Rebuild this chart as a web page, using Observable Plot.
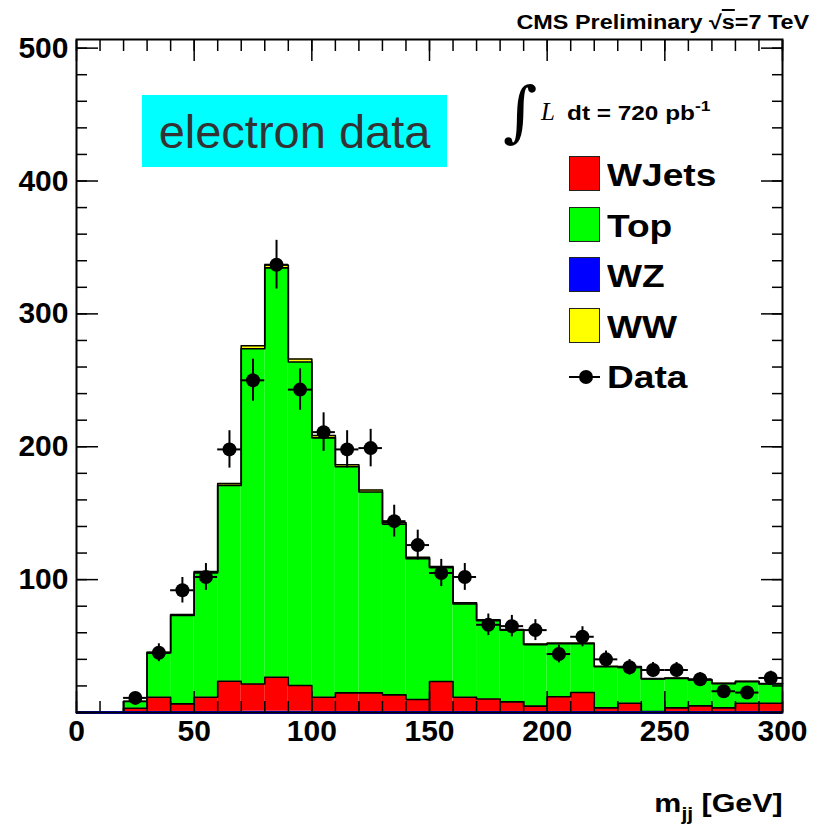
<!DOCTYPE html>
<html><head><meta charset="utf-8">
<script src="https://cdn.jsdelivr.net/npm/d3@7"></script>
<script src="https://cdn.jsdelivr.net/npm/@observablehq/plot@0.6"></script>
<style>
body{margin:0;background:#fff;}
#wrap{position:relative;width:813px;height:825px;font-family:"Liberation Sans",Arial,Helvetica,sans-serif;overflow:hidden;}
.abs{position:absolute;white-space:nowrap;line-height:1;}
.wide{transform:scaleX(1.16);transform-origin:left center;}
.wideR{transform:scaleX(1.17);transform-origin:right center;}
</style></head><body><div id="wrap"></div>
<script>
// ---- data ----
const binLo = [0,10,20,30,40,50,60,70,80,90,100,110,120,130,140,150,160,170,180,190,200,210,220,230,240,250,260,270,280,290];
const binHi = [10,20,30,40,50,60,70,80,90,100,110,120,130,140,150,160,170,180,190,200,210,220,230,240,250,260,270,280,290,300];
const wz    = [0,0,0.6,0.8,0.8,0.8,0.8,1.0,1.0,1.0,0.8,0.8,0.8,0.8,0.8,0.8,0.8,0.8,0.8,0.8,0.8,0.8,0.8,0.8,0.8,0.8,0.8,0.8,0.8,0.8];
const wjets = [0,0,2.6,10.7,5.7,10.7,22.7,20.5,25.5,19.3,10.7,14.0,14.0,12.5,9.0,22.5,10.7,9.4,7.2,4.0,11.0,14.2,2.7,6.2,0,2.7,4.2,2.7,6.2,6.2];
const top_  = [0,0,5.1,33.3,66.5,93.6,147.4,252.3,308.1,243.5,195.2,170.2,151.1,128.5,106.0,85.6,70.2,58.8,53.9,46.3,39.9,36.7,30.9,27.2,24.4,22.2,19.5,18.2,16.2,14.5];
const ww    = [0,0,0.2,0.5,0.7,0.9,1.5,2.2,2.2,2.2,1.8,1.5,1.5,1.2,1.0,0.9,0.8,0.7,0.6,0.5,0.5,0.5,0.4,0.4,0.3,0.3,0.3,0.3,0.3,0.3];
const dataCounts = [0,0,11,45,92,102,198,250,337,243,211,198,199,144,126,105,102,66,65,62,44,57,40,34,32,32,25,16,15,26];

const layerNames  = ["WZ","WJets","Top","WW"];
const layerValues = [wz, wjets, top_, ww];
const layerColors = ["#0000ff","#ff0000","#00ff00","#ffff00"];

const xMajor = [0,50,100,150,200,250,300];
const xMinor = d3.range(0, 301, 10);
const yMajor = [0,100,200,300,400,500];
const yMinor = d3.range(0, 501, 20);
const yLabels = [100,200,300,400,500];

// ---- build stacked tables ----
const rects = [], outlines = [];
const cum = binLo.map(() => 0);
layerValues.forEach((vals, li) => {
  binLo.forEach((lo, i) => {
    const y0 = cum[i], y1 = cum[i] + vals[i];
    if (vals[i] > 0) rects.push({x1: lo, x2: binHi[i], y1: y0, y2: y1, fill: layerColors[li]});
    cum[i] = y1;
  });
  if (li > 0) {
    binLo.forEach((lo, i) => {
      outlines.push({layer: layerNames[li], x: lo, y: cum[i]});
      outlines.push({layer: layerNames[li], x: binHi[i], y: cum[i]});
    });
  }
});
const pts = binLo.map((lo, i) => ({x: lo + 5, lo, hi: binHi[i], n: dataCounts[i], e: Math.sqrt(dataCounts[i])})).filter(d => d.n > 0);

const chart = Plot.plot({
  width: 813, height: 825,
  marginLeft: 76, marginRight: 31, marginTop: 39, marginBottom: 113,
  x: {domain: [0, 300]},
  y: {domain: [0, 506.5]},
  color: {type: "identity"},
  style: {fontFamily: '"Liberation Sans", Arial, Helvetica, sans-serif', fontSize: "30px", fontWeight: "bold", background: "white", color: "black"},
  marks: [
    Plot.rect(rects, {x1: "x1", x2: "x2", y1: "y1", y2: "y2", fill: "fill"}),
    Plot.line(outlines, {x: "x", y: "y", z: "layer", stroke: "black", strokeWidth: 1.6}),
    Plot.ruleY([0], {stroke: "#0000ff", strokeWidth: 3}),
    // ticks (inward, all four sides)
    Plot.axisX(xMinor, {anchor: "bottom", tickSize: -11, tickFormat: () => "", strokeWidth: 1.5}),
    Plot.axisX(xMajor, {anchor: "bottom", tickSize: -21, tickFormat: () => "", strokeWidth: 1.5}),
    Plot.axisX(xMinor, {anchor: "top", tickSize: -11, tickFormat: () => "", strokeWidth: 1.5}),
    Plot.axisX(xMajor, {anchor: "top", tickSize: -21, tickFormat: () => "", strokeWidth: 1.5}),
    Plot.axisY(yMinor, {anchor: "left", tickSize: -11, tickFormat: () => "", strokeWidth: 1.5}),
    Plot.axisY(yMajor, {anchor: "left", tickSize: -22, tickFormat: () => "", strokeWidth: 1.5}),
    Plot.axisY(yMinor, {anchor: "right", tickSize: -11, tickFormat: () => "", strokeWidth: 1.5}),
    Plot.axisY(yMajor, {anchor: "right", tickSize: -22, tickFormat: () => "", strokeWidth: 1.5}),
    // labels
    Plot.axisX(xMajor, {anchor: "bottom", tickSize: 0, tickPadding: 7, tickFormat: d3.format("d")}),
    Plot.axisY(yLabels, {anchor: "left", tickSize: 0, tickPadding: 8, tickFormat: d3.format("d")}),
    // data with errors
    Plot.ruleX(pts, {x: "x", y1: d => d.n - d.e, y2: d => d.n + d.e, stroke: "black", strokeWidth: 2}),
    Plot.ruleY(pts, {y: "n", x1: "lo", x2: "hi", stroke: "black", strokeWidth: 2}),
    Plot.dot(pts, {x: "x", y: "n", r: 7, fill: "black"}),
    Plot.frame({stroke: "black", strokeWidth: 2})
  ]
});
const wrap = document.getElementById("wrap");
wrap.appendChild(chart);

const add = (html, css, cls) => { const d = document.createElement("div"); d.className = "abs" + (cls ? " " + cls : ""); d.style.cssText = css; d.innerHTML = html; wrap.appendChild(d); return d; };

// title
add("CMS Preliminary &radic;<span style='text-decoration:overline'>s</span>=7 TeV", "right:4px;top:12px;font-size:20px;font-weight:bold;", "wideR");
// electron data box
add("electron data", "left:142px;top:95px;width:305px;height:72px;background:#00ffff;color:#333;font-size:47px;display:flex;align-items:center;justify-content:center;");
// integrated luminosity
add("&int;", "left:503px;top:79px;font-family:'DejaVu Serif','Liberation Serif',serif;font-size:66px;");
add("L", "left:541px;top:99px;font-family:'Liberation Serif','Times New Roman',serif;font-style:italic;font-size:25px;");
add("dt = 720 pb<span style='position:relative;top:-9px;font-size:15px;'>-1</span>", "left:567px;top:102px;font-size:21px;font-weight:bold;", "wide");
// legend
const legend = [["WJets", "#ff0000", 156], ["Top", "#00ff00", 207], ["WZ", "#0000ff", 257], ["WW", "#ffff00", 308]];
legend.forEach(([name, col, y]) => {
  add("", `left:569px;top:${y}px;width:31px;height:35px;background:${col};border:1.5px solid #222;box-sizing:border-box;`);
  add(name, `left:607px;top:${y + 3}px;font-size:32px;font-weight:bold;`, "wide");
});
add("", "left:569px;top:376px;width:31px;height:2px;background:#000;");
add("", "left:579px;top:370px;width:14px;height:14px;border-radius:50%;background:#000;");
add("Data", "left:607px;top:361px;font-size:32px;font-weight:bold;", "wide");
// x-axis title
add("m<span style='position:relative;top:8px;font-size:18px;'>jj</span> [GeV]", "right:30px;top:790px;font-size:26px;font-weight:bold;", "wideR");
</script></body></html>
